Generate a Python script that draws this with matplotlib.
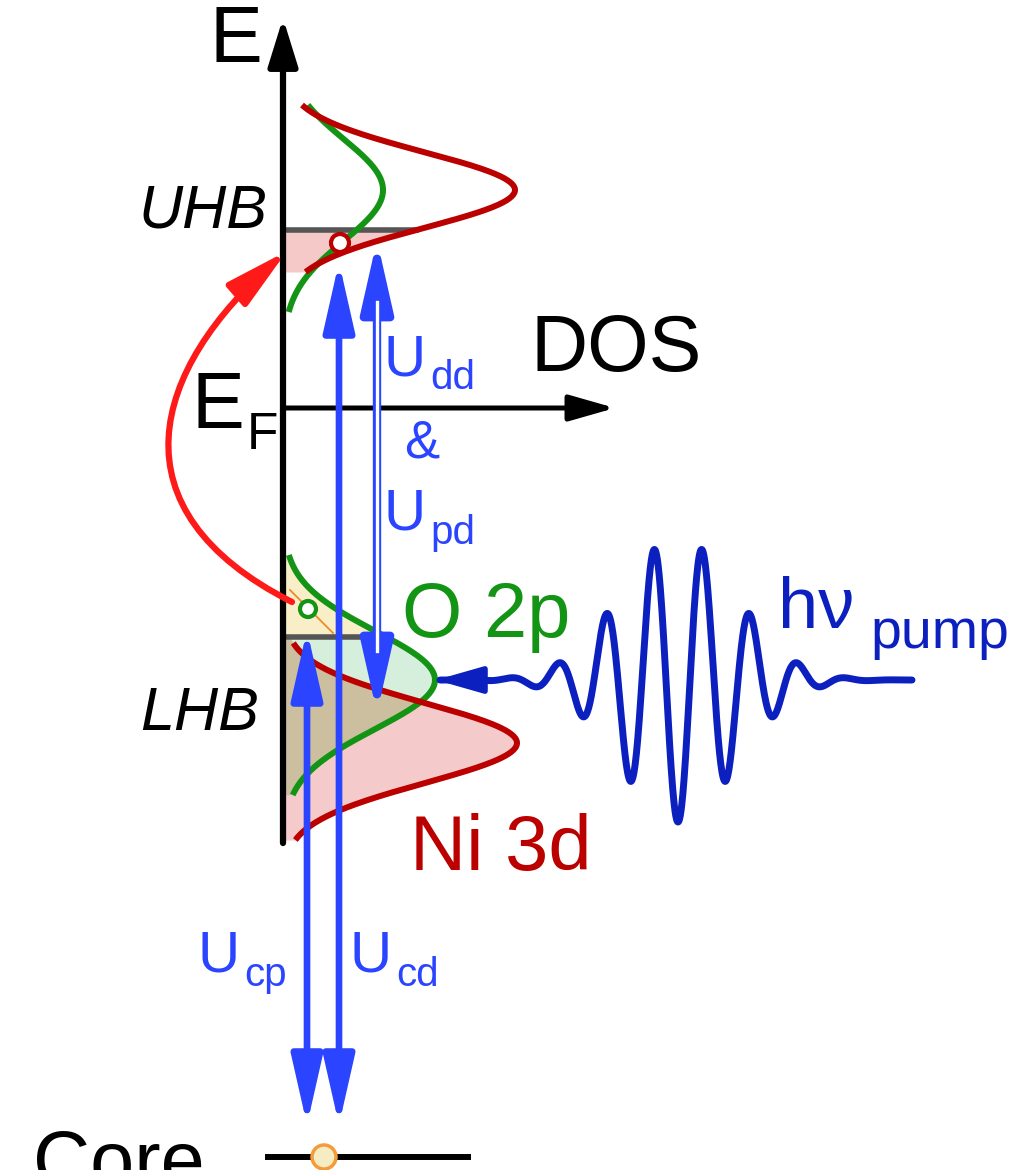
import numpy as np
import matplotlib.pyplot as plt
from matplotlib.patches import FancyArrowPatch, Circle
from matplotlib.path import Path

plt.rcParams['font.family'] = ['Liberation Sans', 'DejaVu Sans']

# picture is laid out in pixel units, y grows downward (= lower energy)
axis_x = 283
axis_top = 18
axis_bottom = 843
fermi_y = 408
dos_tip = 615
core_y = 1157

# DOS bands, index 0 = UHB, index 1 = LHB
ni3d_center = [190, 743]
ni3d_height = [232, 234]
ni3d_sigma = [38, 40]
ni3d_from = [105, 643]
ni3d_to = [272, 840]
o2p_center = [190, 680]
o2p_height = [100, 152]
o2p_sigma = [51, 49]
o2p_from = [105, 555]
o2p_to = [312, 795]
band_edge = [230, 637]

# pump pulse
pump_y = 680
pump_x0 = 440
pump_x1 = 912
pump_center = 678
pump_amp = 142
pump_sigma = 58
pump_period = 48

# electron / holes
electron_uhb = (340, 243)
hole_lhb = (308, 609)
core_hole_x = 324

# interaction arrows
ucp_x, ucp_top = 307, 630
ucd_x, ucd_top = 339, 262
udd_x, udd_top, udd_bottom = 377, 240, 713
arrow_bottom = 1125

red = '#bb0000'
green = '#149414'
blue = '#2a44ff'
wave_blue = '#0c20c0'


def band(y, c, h, s):
    return axis_x + h * np.exp(-(y - c) ** 2 / (2 * s ** 2))


fig = plt.figure(figsize=(10.18, 11.70), dpi=100)
ax = fig.add_axes([0, 0, 1, 1])
ax.set_xlim(0, 1018)
ax.set_ylim(1170, 0)
ax.axis('off')

# ---- fills
y = np.linspace(band_edge[0], ni3d_to[0], 100)
ax.fill_betweenx(y, axis_x, band(y, ni3d_center[0], ni3d_height[0], ni3d_sigma[0]),
                 color='#f6c9c9', lw=0, zorder=1)

y = np.linspace(o2p_from[1], band_edge[1], 100)
ax.fill_betweenx(y, axis_x, band(y, o2p_center[1], o2p_height[1], o2p_sigma[1]),
                 color='#f8efc8', lw=0, zorder=1)

y = np.linspace(band_edge[1], ni3d_to[1], 300)
xr = band(y, ni3d_center[1], ni3d_height[1], ni3d_sigma[1])
xg = np.where(y <= o2p_to[1], band(y, o2p_center[1], o2p_height[1], o2p_sigma[1]), axis_x)
ax.fill_betweenx(y, axis_x, xr, color='#f5caca', lw=0, zorder=1)
ax.fill_betweenx(y, axis_x, xg, color='#d6efdc', lw=0, zorder=1)
ax.fill_betweenx(y, axis_x, np.minimum(xr, xg), color='#cbbf9f', lw=0, zorder=1)

# thin orange line in the O 2p hole region
ax.plot([290, 333], [590, 633], color='#f08a2a', lw=1.3, zorder=2)

# ---- band edge lines
for i in range(2):
    if i == 0:
        xe = band(band_edge[i], ni3d_center[i], ni3d_height[i], ni3d_sigma[i])
    else:
        xe = band(band_edge[i], o2p_center[i], o2p_height[i], o2p_sigma[i])
    ax.plot([axis_x, xe], [band_edge[i], band_edge[i]], color='#555555', lw=4, zorder=2)

# ---- DOS curves
for i in range(2):
    y = np.linspace(o2p_from[i], o2p_to[i], 200)
    ax.plot(band(y, o2p_center[i], o2p_height[i], o2p_sigma[i]), y,
            color=green, lw=4.3, zorder=3, solid_capstyle='butt')
    y = np.linspace(ni3d_from[i], ni3d_to[i], 200)
    ax.plot(band(y, ni3d_center[i], ni3d_height[i], ni3d_sigma[i]), y,
            color=red, lw=4.3, zorder=3, solid_capstyle='butt')

# ---- axes
ax.annotate('', xy=(axis_x, axis_top), xytext=(axis_x, axis_bottom),
            arrowprops=dict(arrowstyle='-|>,head_length=29,head_width=9', mutation_scale=1,
                            color='black', lw=4.5, shrinkA=0, shrinkB=0), zorder=4)
ax.annotate('', xy=(dos_tip, fermi_y), xytext=(axis_x, fermi_y),
            arrowprops=dict(arrowstyle='-|>,head_length=28,head_width=8', mutation_scale=1,
                            color='black', lw=3.6, shrinkA=0, shrinkB=0), zorder=4)

# ---- red excitation arrow (LHB -> UHB)
arc = Path([(292, 602), (110, 510), (150, 370), (287, 251)],
           [Path.MOVETO, Path.CURVE4, Path.CURVE4, Path.CURVE4])
ax.add_patch(FancyArrowPatch(path=arc, arrowstyle='-|>,head_length=38,head_width=9',
                             mutation_scale=1, color='#ff1a1a', lw=4.5, zorder=5))

# ---- interaction arrows
for x0, top in [(ucp_x, ucp_top), (ucd_x, ucd_top)]:
    ax.annotate('', xy=(x0, top), xytext=(x0, arrow_bottom),
                arrowprops=dict(arrowstyle='<|-|>,head_length=42,head_width=9.5',
                                mutation_scale=1, color=blue, lw=4.8,
                                shrinkA=0, shrinkB=0), zorder=6)

ax.annotate('', xy=(udd_x, udd_top), xytext=(udd_x, udd_bottom),
            arrowprops=dict(arrowstyle='<|-|>,head_length=42,head_width=9.5',
                            mutation_scale=1, color=blue, lw=6,
                            shrinkA=0, shrinkB=0), zorder=6)
ax.plot([udd_x, udd_x], [udd_top + 62, udd_bottom - 62], color='white', lw=2.4, zorder=7)

# ---- pump pulse
xw = np.linspace(pump_x0, pump_x1, 1200)
yw = pump_y + pump_amp * np.exp(-(xw - pump_center) ** 2 / (2 * pump_sigma ** 2)) \
    * np.cos(2 * np.pi * (xw - pump_center) / pump_period)
ax.plot(xw, yw, color=wave_blue, lw=5, zorder=6, solid_capstyle='round')
ax.annotate('', xy=(436, pump_y), xytext=(490, pump_y),
            arrowprops=dict(arrowstyle='-|>,head_length=28,head_width=8', mutation_scale=1,
                            color=wave_blue, lw=4, shrinkA=0, shrinkB=0), zorder=6)

# ---- core level
ax.plot([268, 468], [core_y, core_y], color='black', lw=4.3, zorder=4)
ax.add_patch(Circle((core_hole_x, core_y), 12, facecolor='#f6ecc4', edgecolor='#f39c3a',
                    lw=2.5, zorder=8))

# ---- electron and hole markers
ax.add_patch(Circle(electron_uhb, 9, facecolor='white', edgecolor=red, lw=3, zorder=8))
ax.add_patch(Circle(hole_lhb, 8, facecolor='white', edgecolor=green, lw=3, zorder=8))

# ---- labels
ax.text(210, 62, 'E', fontsize=57, va='baseline', zorder=9)
ax.text(531, 371, 'DOS', fontsize=57, va='baseline', zorder=9)
ax.text(192, 428, 'E', fontsize=57, va='baseline', zorder=9)
ax.text(247, 449, 'F', fontsize=37, va='baseline', zorder=9)
ax.text(138, 227, 'UHB', fontsize=44, style='italic', va='baseline', zorder=9)
ax.text(140, 730, 'LHB', fontsize=44, style='italic', va='baseline', zorder=9)

ax.text(384, 375, 'U', fontsize=42, color=blue, va='baseline', zorder=9)
ax.text(430, 389, 'dd', fontsize=29, color=blue, va='baseline', zorder=9)
ax.text(422, 444, '&', fontsize=38, color=blue, ha='center', va='center', zorder=9)
ax.text(384, 530, 'U', fontsize=42, color=blue, va='baseline', zorder=9)
ax.text(430, 544, 'pd', fontsize=29, color=blue, va='baseline', zorder=9)

ax.text(198, 972, 'U', fontsize=42, color=blue, va='baseline', zorder=9)
ax.text(244, 986, 'cp', fontsize=29, color=blue, va='baseline', zorder=9)
ax.text(350, 972, 'U', fontsize=42, color=blue, va='baseline', zorder=9)
ax.text(396, 986, 'cd', fontsize=29, color=blue, va='baseline', zorder=9)

ax.text(402, 637, 'O 2p', fontsize=56, color=green, va='baseline', zorder=9)
ax.text(410, 870, 'Ni 3d', fontsize=56, color=red, va='baseline', zorder=9)
ax.text(778, 628, 'hν', fontsize=52, color=wave_blue, va='baseline', zorder=9)
ax.text(870, 648, 'pump', fontsize=40, color=wave_blue, va='baseline', zorder=9)

ax.text(33, 1187, 'Core', fontsize=57, va='baseline', zorder=9)

fig.savefig('out.png', dpi=100)
